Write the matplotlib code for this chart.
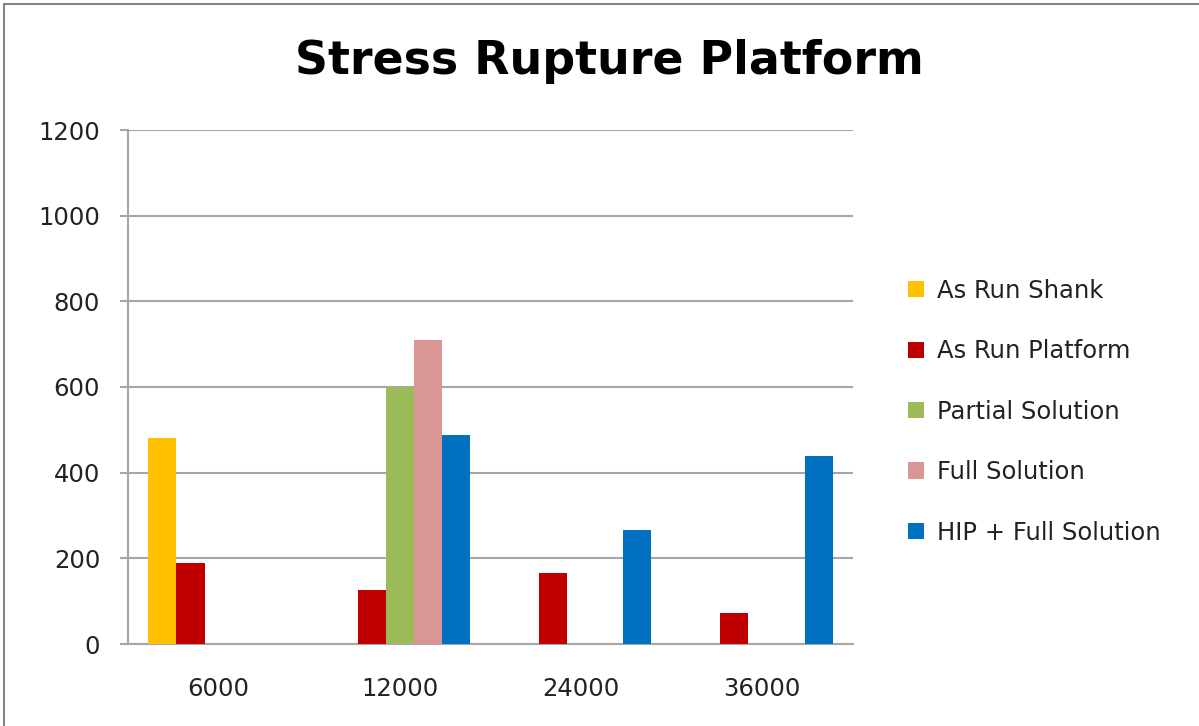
import matplotlib
matplotlib.use("Agg")
import matplotlib.pyplot as plt
import numpy as np
from matplotlib.patches import Rectangle

categories = ["6000", "12000", "24000", "36000"]
series_names = ["As Run Shank", "As Run Platform", "Partial Solution",
                "Full Solution", "HIP + Full Solution"]
as_run_shank = [480, 0, 0, 0]
as_run_platform = [188, 125, 165, 73]
partial_solution = [0, 600, 0, 0]
full_solution = [0, 710, 0, 0]
hip_full_solution = [0, 488, 267, 440]
y_ticks = [0, 200, 400, 600, 800, 1000, 1200]

series_values = [as_run_shank, as_run_platform, partial_solution,
                 full_solution, hip_full_solution]
colors = ["#FFC000", "#C00000", "#9BBB59", "#D99694", "#0070C0"]

plt.rcParams["font.family"] = ["DejaVu Sans"]

fig = plt.figure(figsize=(11.99, 7.26), dpi=100)
fig.patch.set_facecolor("white")

# chart-area border
fig.add_artist(Rectangle((4 / 1199, -0.01), 1.2, 1 - 4 / 726 + 0.01,
                         transform=fig.transFigure, fill=False,
                         edgecolor="#868686", linewidth=1.5))

ax = fig.add_axes([128 / 1199, 1 - 644 / 726, (853 - 128) / 1199, (644 - 130) / 726])

x = np.arange(len(categories))
n = len(series_values)
bar_w = 0.155
for i, (vals, name, c) in enumerate(zip(series_values, series_names, colors)):
    offs = (i - (n - 1) / 2) * bar_w
    ax.bar(x + offs, vals, width=bar_w, color=c, label=name, zorder=3)

ax.set_xlim(-0.5, len(categories) - 0.5)
ax.set_ylim(0, 1200)
ax.set_yticks(y_ticks)
ax.set_yticklabels([str(v) for v in y_ticks])
ax.set_xticks(x)
ax.set_xticklabels(categories)
ax.yaxis.grid(True, color="#A6A6A6", linewidth=1.5, zorder=0)
ax.set_axisbelow(True)

for s in ["top", "right"]:
    ax.spines[s].set_visible(False)
for s in ["left", "bottom"]:
    ax.spines[s].set_color("#A6A6A6")
    ax.spines[s].set_linewidth(1.5)

ax.tick_params(axis="y", length=6, color="#A6A6A6", width=1.5,
               labelsize=17.5, pad=14, labelcolor="#222222")
ax.tick_params(axis="x", length=0, labelsize=17.5, pad=24, labelcolor="#222222")

fig.text(609 / 1199, 1 - 62 / 726, "Stress Rupture Platform",
         ha="center", va="center", fontsize=33, fontweight="bold", color="black")

handles, labels = ax.get_legend_handles_labels()
leg = fig.legend(handles, labels, loc="upper left",
                 bbox_to_anchor=(898 / 1199, 1 - 269 / 726),
                 frameon=False, fontsize=17.5, handlelength=0.65, handleheight=0.65,
                 handletextpad=0.55, labelspacing=1.5, borderaxespad=0)
for t in leg.get_texts():
    t.set_color("#222222")

fig.savefig("out.png", dpi=100)
